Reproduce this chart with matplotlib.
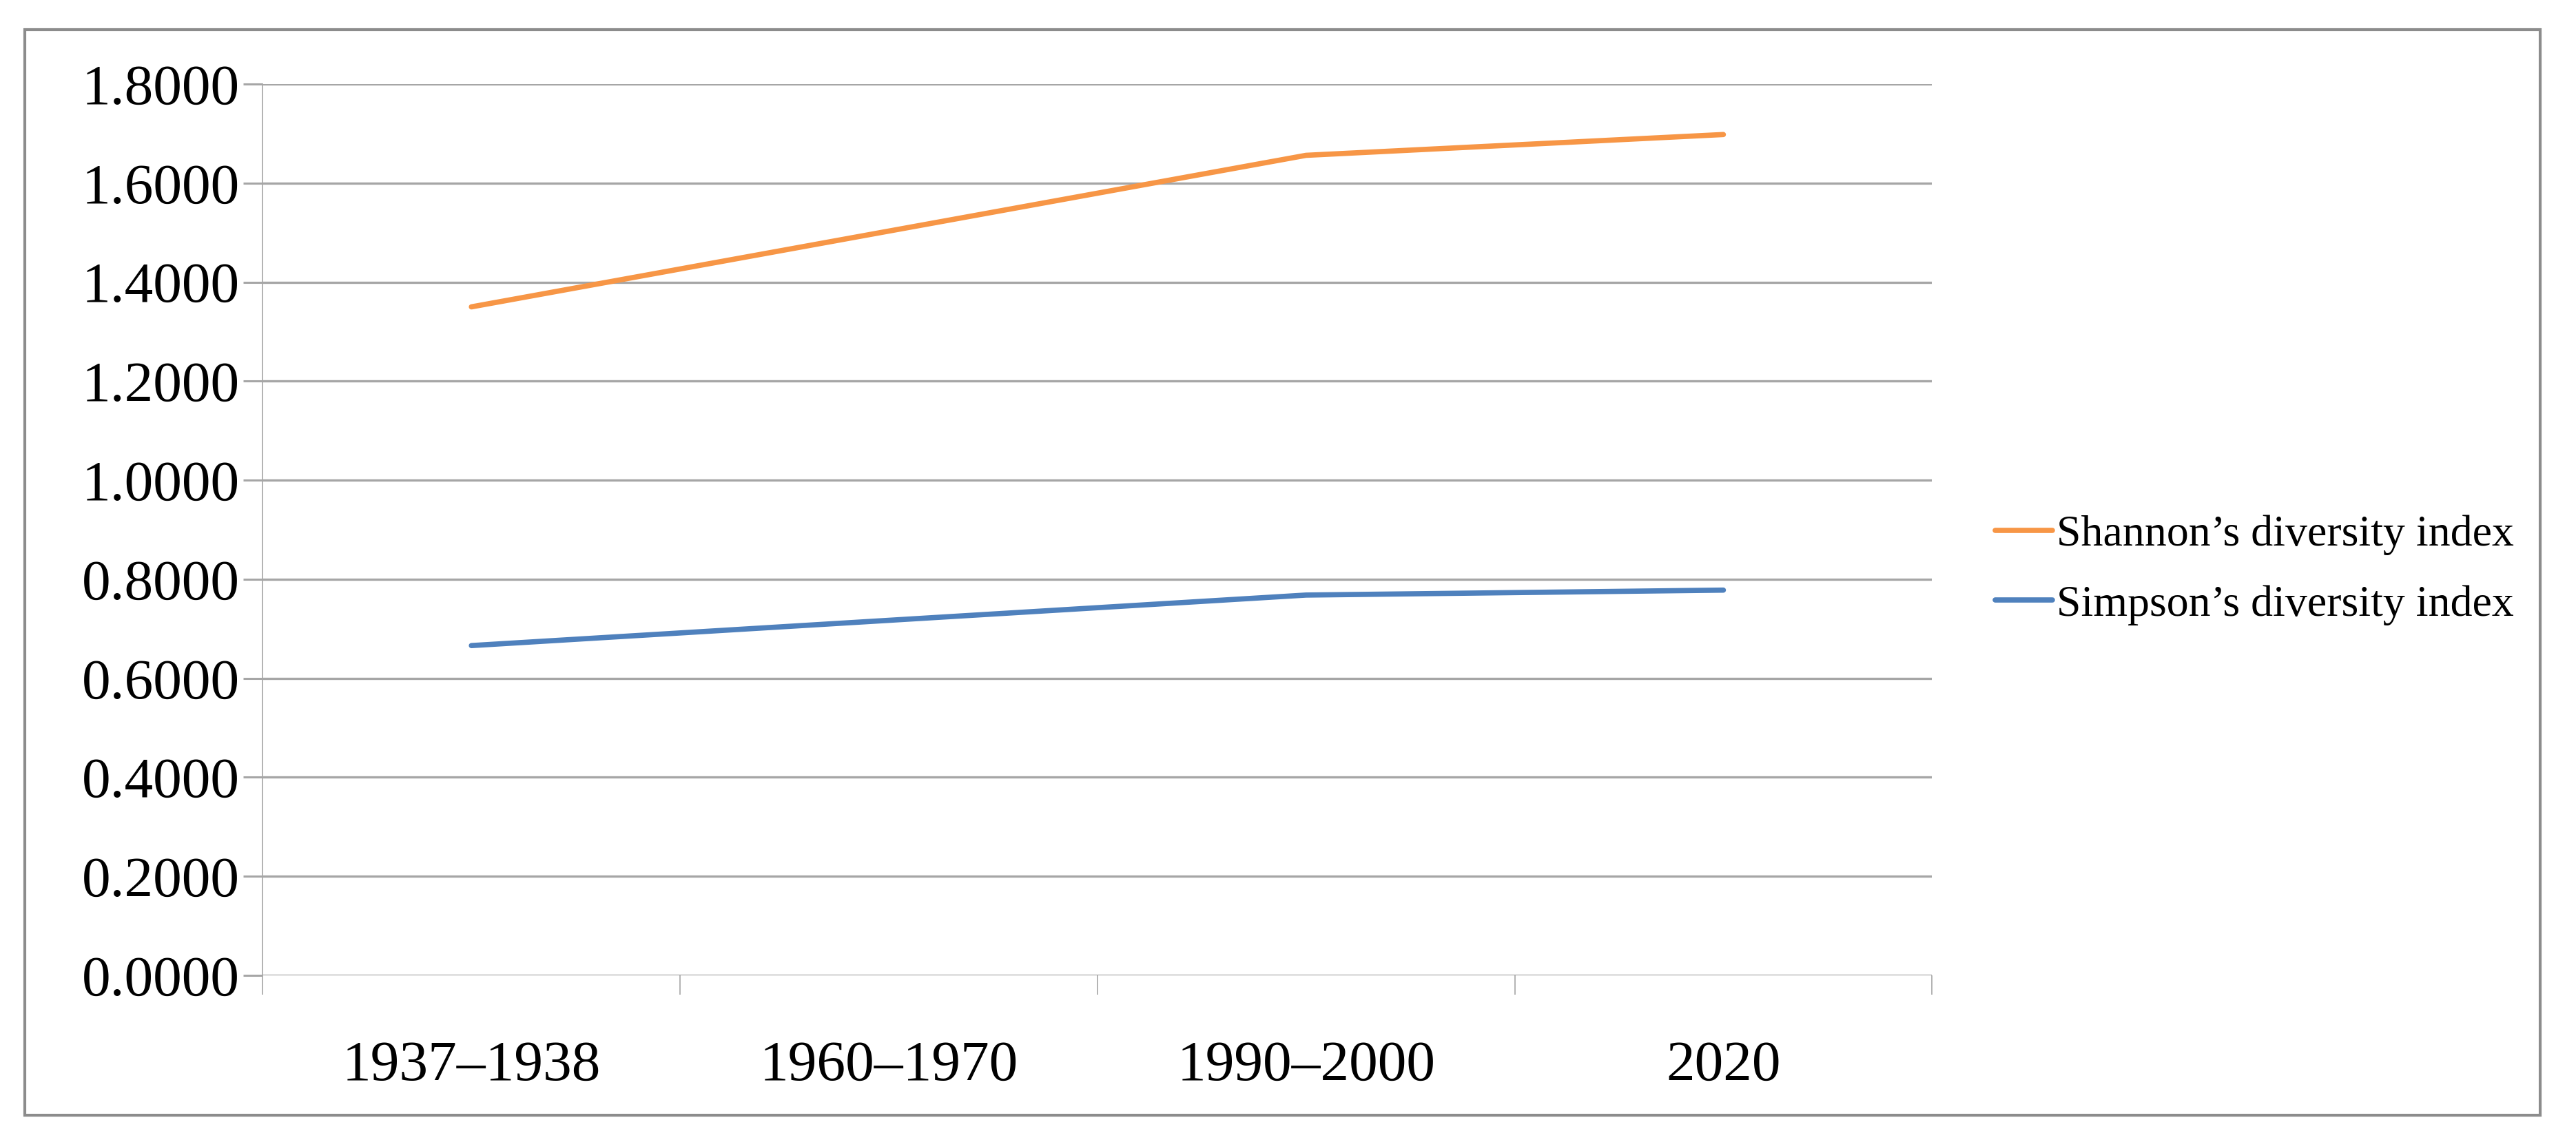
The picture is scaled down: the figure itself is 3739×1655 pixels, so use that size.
import numpy as np
import matplotlib
matplotlib.use("Agg")
import matplotlib.pyplot as plt
from matplotlib.patches import Rectangle

# Values (1960-1970 has no data, Excel bridges the gap)
periods = ["1937\u20131938", "1960\u20131970", "1990\u20132000", "2020"]
shannon = [1.350, np.nan, 1.656, 1.698]
simpson = [0.666, np.nan, 0.768, 0.778]
series_names = ["Shannon\u2019s diversity index", "Simpson\u2019s diversity index"]
y_ticks = [0.0, 0.2, 0.4, 0.6, 0.8, 1.0, 1.2, 1.4, 1.6, 1.8]

ORANGE = "#F79646"
BLUE = "#4F81BD"
GRID = "#A6A6A6"

plt.rcParams["font.family"] = ["Liberation Serif", "DejaVu Serif"]

fig = plt.figure(figsize=(37.39, 16.55), dpi=100)
ax = fig.add_axes([0.102, 0.1444, 0.648, 0.7819])

x = np.arange(len(periods))
for vals, color, name in [(shannon, ORANGE, series_names[0]), (simpson, BLUE, series_names[1])]:
    v = np.asarray(vals, dtype=float)
    ok = ~np.isnan(v)
    ax.plot(x[ok], v[ok], color=color, lw=5.5, solid_capstyle="round", label=name, zorder=3)

ax.set_xlim(-0.5, len(periods) - 0.5)
ax.set_ylim(0, 1.8)
ax.set_yticks(y_ticks)
ax.set_yticklabels([f"{t:.4f}" for t in y_ticks])
ax.set_xticks(x)
ax.set_xticklabels(periods)
ax.set_xticks(np.arange(-0.5, len(periods)), minor=True)

ax.grid(axis="y", color=GRID, lw=2.4)
ax.set_axisbelow(True)
for side in ["top", "right", "bottom"]:
    ax.spines[side].set_visible(False)
ax.spines["left"].set_color(GRID)
ax.spines["left"].set_linewidth(1.2)

ax.tick_params(axis="y", length=20, width=2.2, color=GRID, labelsize=60, pad=4)
ax.tick_params(axis="x", which="major", length=0, labelsize=60, pad=68)
ax.tick_params(axis="x", which="minor", length=20, width=1.2, color=GRID)

fig.legend(loc="center left", bbox_to_anchor=(0.766, 0.50), frameon=False,
           fontsize=46, handlelength=1.3, handletextpad=0.1, labelspacing=0.67,
           borderpad=0)

# outer chart border
fig.patches.append(Rectangle((0.0096, 0.0218), 0.9765, 0.952, transform=fig.transFigure,
                             fill=False, edgecolor="#8C8C8C", lw=3))

fig.savefig("out.png", dpi=100)
